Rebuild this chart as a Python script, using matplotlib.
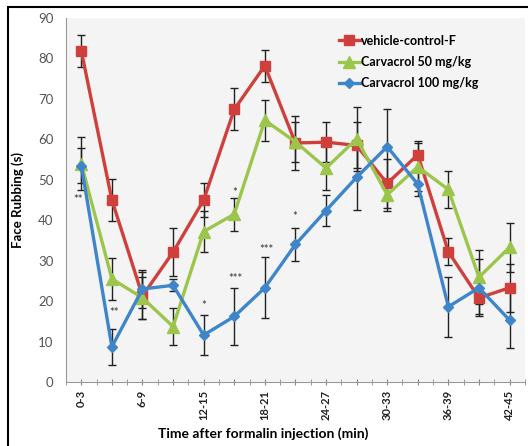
import matplotlib
matplotlib.use("Agg")
import matplotlib.pyplot as plt
from matplotlib.patches import Rectangle
import numpy as np

plt.rcParams['font.family'] = ['Lato', 'DejaVu Sans']

categories = ["0-3", "3-6", "6-9", "9-12", "12-15", "15-18", "18-21", "21-24",
              "24-27", "27-30", "30-33", "33-36", "36-39", "39-42", "42-45"]
vehicle = [81.9, 45.0, 21.3, 32.1, 45.0, 67.4, 78.2, 59.1, 59.3, 58.5, 49.1, 56.2, 32.2, 20.8, 23.3]
vehicle_err = [3.9, 5.3, 5.8, 6.0, 4.3, 5.2, 3.9, 6.6, 5.0, 5.7, 6.0, 3.5, 3.3, 4.1, 6.0]
carv50 = [54.0, 25.5, 20.8, 13.7, 37.2, 41.5, 64.7, 59.4, 52.9, 60.1, 46.3, 53.2, 47.6, 25.9, 33.3]
carv50_err = [6.5, 5.2, 5.1, 4.6, 5.0, 4.1, 5.0, 5.0, 5.5, 8.0, 4.0, 6.0, 4.6, 6.7, 6.0]
carv100 = [53.5, 8.7, 23.0, 23.9, 11.6, 16.2, 23.3, 34.0, 42.4, 50.6, 58.2, 48.9, 18.6, 23.3, 15.3]
carv100_err = [4.3, 4.4, 4.7, 1.5, 4.9, 7.0, 7.5, 4.1, 3.8, 8.0, 9.3, 3.0, 7.4, 7.0, 7.0]

sig_labels = ["**", "**", "*", "***", "***", "*", "*"]
sig_x = [-0.12, 1.06, 4.0, 5.03, 6.05, 5.03, 6.96]
sig_y = [45.2, 17.2, 18.9, 25.5, 32.8, 46.8, 41.0]

fig = plt.figure(figsize=(5.28, 4.46), dpi=100)
ax = fig.add_axes([0.125, 0.1435, 0.869, 0.8161])
ax.set_facecolor('#f4f4f4')

x = np.arange(len(categories))
red, green, blue = '#cf3f3c', '#9cc54c', '#3f85c9'

series = [
    (vehicle, vehicle_err, red, 's', 7, "vehicle-control-F"),
    (carv50, carv50_err, green, '^', 8, "Carvacrol 50 mg/kg"),
    (carv100, carv100_err, blue, 'D', 5.5, "Carvacrol 100 mg/kg"),
]
for vals, err, col, mk, ms, lab in series:
    ax.errorbar(x, vals, yerr=err, fmt='none', ecolor='#222222', elinewidth=1.0,
                capsize=3, capthick=1.0, zorder=2)
for vals, err, col, mk, ms, lab in series:
    ax.plot(x, vals, color=col, lw=2.4, marker=mk, markersize=ms,
            markerfacecolor=col, markeredgecolor=col, label=lab, zorder=3)

for s, sx, sy in zip(sig_labels, sig_x, sig_y):
    ax.text(sx, sy, s, ha='center', va='center', fontsize=8, color='#333333', zorder=4)

ax.set_xlim(-0.5, len(categories) - 0.5)
ax.set_ylim(0, 90)
ax.set_yticks(range(0, 91, 10))
ax.tick_params(axis='y', length=0, labelsize=9.5, labelcolor='#555555', pad=9)
ax.set_xticks(x)
ax.set_xticklabels([c if i % 2 == 0 else "" for i, c in enumerate(categories)],
                   rotation=90, fontsize=8, fontweight='bold', color='#222222')
ax.set_xticks(np.arange(-0.5, len(categories), 1.0), minor=True)
ax.tick_params(axis='x', which='both', length=5, color='#888888', direction='inout', pad=3)

for sp in ['top', 'right']:
    ax.spines[sp].set_visible(False)
ax.spines['left'].set_color('#999999')
ax.spines['bottom'].set_color('#999999')

ax.set_ylabel("Face Rubbing (s)", fontsize=9.5, fontweight='bold')
ax.yaxis.set_label_coords(-0.105, 0.5)
ax.set_xlabel("Time after formalin injection (min)", fontsize=10, fontweight='bold')
ax.xaxis.set_label_coords(0.43, -0.143)
ax.xaxis.label.set_va('center')
ax.yaxis.label.set_va('center')

leg = ax.legend(loc='upper left', bbox_to_anchor=(0.57, 0.985), frameon=False,
                handlelength=1.7, labelspacing=0.75, handletextpad=0.05,
                prop={'weight': 'bold', 'size': 9})

fig.patches.append(Rectangle((0.015, -0.05), 1.1, 1.034, transform=fig.transFigure,
                             fill=False, edgecolor='black', lw=1.5))

fig.savefig("out.png", dpi=100)
